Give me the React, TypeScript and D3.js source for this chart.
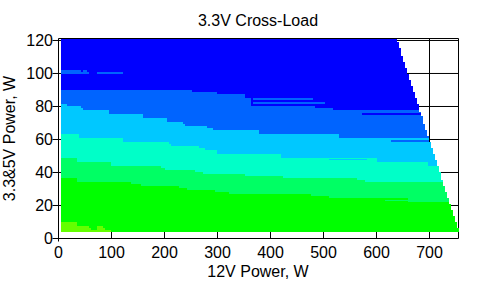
import React from "react";
import * as d3 from "d3";

// ---- Data (values in watts) ----
const title = "3.3V Cross-Load";
const xLabel = "12V Power, W";
const yLabel = "3.3&5V Power, W";
const xTicks = [0, 100, 200, 300, 400, 500, 600, 700];
const yTicks = [0, 20, 40, 60, 80, 100, 120];
const xMax = 754.7;
const yMax = 121.2;

// measured data extent
const dataXMin = 4.7;
const dataYMin = 3.9;

// band colours, from highest 3.3&5V load to lowest
const bandColors = ["#0000FF", "#0064FF", "#00C8FF", "#00FFC8", "#00FF64", "#00FF00", "#64FF00"];

// boundaries between consecutive bands (step functions: x start -> y level)
const b1X = [4.7, 251.3, 299, 352, 363, 484, 518];
const b1Y = [90.0, 88.8, 87.6, 85.2, 80.3, 79.1, 77.9];
const b2X = [4.7, 16, 42.5, 46, 95.3, 159.4, 204, 235.5, 238.7, 279.6, 292, 378, 529];
const b2Y = [81.5, 80.3, 79.1, 77.9, 75.5, 73.0, 70.6, 69.4, 68.2, 67.0, 65.8, 63.3, 60.9];
const b3X = [4.7, 38.7, 121.7, 208.5, 212.3, 265, 276.4, 299, 419.8, 600];
const b3Y = [63.3, 60.9, 58.5, 57.3, 56.1, 54.8, 53.6, 51.2, 48.8, 46.4];
const b4X = [4.7, 34.9, 99, 193.4, 201, 257.5, 272.6, 352, 423.6, 563, 578];
const b4Y = [48.8, 46.4, 43.9, 42.7, 41.5, 40.3, 39.1, 37.9, 36.7, 35.5, 34.2];
const b5X = [4.7, 34.9, 136.8, 155.7, 227.4, 242.5, 295.3, 321.7, 476.4, 510.4, 660];
const b5Y = [36.7, 34.2, 33.0, 31.8, 30.6, 29.4, 28.2, 27.0, 25.8, 24.5, 22.3];
const b6X = [4.7, 34.9, 57.5, 61.3, 72.6, 84, 87.7, 99];
const b6Y = [10.0, 7.6, 6.4, 5.2, 7.6, 6.4, 5.2, 3.9];

// isolated streaks: [x0, x1, y0, y1, band index]
const streaks: [number, number, number, number, number][] = [
  [4.7, 42.5, 100.9, 102.1, 1],
  [46, 54, 100.9, 102.1, 1],
  [4.7, 57.5, 99.7, 100.9, 1],
  [72.6, 121.7, 99.7, 100.9, 1],
  [367, 480, 83.9, 85.2, 1],
  [367, 503, 81.5, 82.7, 1],
  [573, 690, 74.8, 75.9, 0],
  [627, 700, 58.5, 59.7, 1],
  [510, 582, 47.6, 48.2, 2],
  [698, 725, 43.9, 47.6, 2],
  [616, 666, 22.7, 23.6, 4],
];

// load limit: for each row (lower edge), the maximum 12V load
const limitLow = [119.1, 115.5, 110.6, 107.0, 103.3, 99.7, 96.1, 92.4, 88.8, 85.2, 81.5, 76.7, 74.2, 69.4, 65.8, 62.1,
  58.5, 54.8, 51.2, 47.6, 43.9, 40.3, 35.5, 31.8, 28.2, 24.5, 20.9, 17.3, 13.6, 10.0, 6.4, 3.9];
const limitX = [638.7, 642.5, 646.2, 650.0, 653.8, 657.5, 661.3, 665.1, 668.9, 672.6, 676.4, 680.2, 683.9, 687.7, 691.5, 695.3,
  699.1, 702.8, 706.6, 710.4, 714.2, 717.9, 721.7, 725.5, 729.2, 733.0, 736.8, 740.6, 744.3, 748.1, 751.9, 755.7];

const boundaries = [
  [b1X, b1Y],
  [b2X, b2Y],
  [b3X, b3Y],
  [b4X, b4Y],
  [b5X, b5Y],
  [b6X, b6Y],
];

export default function App() {
  const width = 487;
  const height = 286;
  const x = d3.scaleLinear().domain([0, xMax]).range([58.5, 458.5]);
  const y = d3.scaleLinear().domain([0, yMax]).range([238.5, 38.5]);
  const font = "'Liberation Sans', Arial, sans-serif";

  const area = d3
    .area<[number, number]>()
    .x((d) => x(d[0]))
    .y0(y(dataYMin))
    .y1((d) => y(d[1]))
    .curve(d3.curveStepAfter);

  // clip polygon from limit staircase
  const pts: [number, number][] = [[dataXMin, yMax]];
  limitX.forEach((lx, i) => {
    const upper = i === 0 ? yMax : limitLow[i - 1];
    pts.push([lx, upper]);
    pts.push([lx, limitLow[i]]);
  });
  pts.push([dataXMin, dataYMin]);
  const clipD = d3.line<[number, number]>().x((d) => x(d[0])).y((d) => y(d[1]))(pts) + "Z";

  return (
    <svg width={width} height={height} style={{ position: "absolute", left: 0, top: 0, background: "#fff" }}>
      <defs>
        <clipPath id="limitClip">
          <path d={clipD} />
        </clipPath>
      </defs>
      <rect x={0} y={0} width={width} height={height} fill="#fff" />
      {/* grid */}
      {xTicks.slice(1).map((t) => (
        <line key={"gx" + t} x1={x(t)} x2={x(t)} y1={y(0)} y2={y(yMax)} stroke="#000" strokeWidth={1} />
      ))}
      {yTicks.slice(1).map((t) => (
        <line key={"gy" + t} x1={x(0)} x2={x(xMax)} y1={y(t)} y2={y(t)} stroke="#000" strokeWidth={1} />
      ))}
      {/* frame */}
      <line x1={x(0)} x2={x(xMax)} y1={y(yMax)} y2={y(yMax)} stroke="#000" />
      <line x1={x(xMax)} x2={x(xMax)} y1={y(yMax)} y2={y(0)} stroke="#000" />
      <line x1={x(0)} x2={x(0)} y1={y(yMax)} y2={y(0) + 3} stroke="#000" />
      <line x1={x(0) - 2} x2={x(xMax)} y1={y(0)} y2={y(0)} stroke="#000" />
      {yTicks.map((t) => (
        <line key={"ty" + t} x1={x(0) - 6} x2={x(0)} y1={y(t)} y2={y(t)} stroke="#000" />
      ))}
      {/* heat map */}
      <g clipPath="url(#limitClip)" shapeRendering="crispEdges">
        <rect
          x={x(dataXMin)}
          y={y(yMax)}
          width={x(xMax + 10) - x(dataXMin)}
          height={y(dataYMin) - y(yMax)}
          fill={bandColors[0]}
        />
        {boundaries.map(([bx, by], i) => {
          const d: [number, number][] = bx.map((v, j) => [v, by[j]]);
          d.push([xMax + 10, by[by.length - 1]]);
          return <path key={"band" + i} d={area(d) || ""} fill={bandColors[i + 1]} />;
        })}
        {streaks.map((s, i) => (
          <rect
            key={"st" + i}
            x={x(s[0])}
            y={y(s[3])}
            width={x(s[1]) - x(s[0])}
            height={y(s[2]) - y(s[3])}
            fill={bandColors[s[4]]}
          />
        ))}
      </g>
      {/* tick labels */}
      {yTicks.map((t) => (
        <text key={"ly" + t} x={53} y={y(t)} dy="0.36em" textAnchor="end" fontFamily={font} fontSize={16} fill="#000">
          {t}
        </text>
      ))}
      {xTicks.map((t) => (
        <text key={"lx" + t} x={x(t)} y={257.5} textAnchor="middle" fontFamily={font} fontSize={16} fill="#000">
          {t}
        </text>
      ))}
      <text x={258} y={25.5} textAnchor="middle" fontFamily={font} fontSize={16} fill="#000">
        {title}
      </text>
      <text x={258} y={276.5} textAnchor="middle" fontFamily={font} fontSize={16} fill="#000">
        {xLabel}
      </text>
      <text
        transform="translate(15,138.5) rotate(-90)"
        textAnchor="middle"
        fontFamily={font}
        fontSize={16}
        fill="#000"
      >
        {yLabel}
      </text>
    </svg>
  );
}
